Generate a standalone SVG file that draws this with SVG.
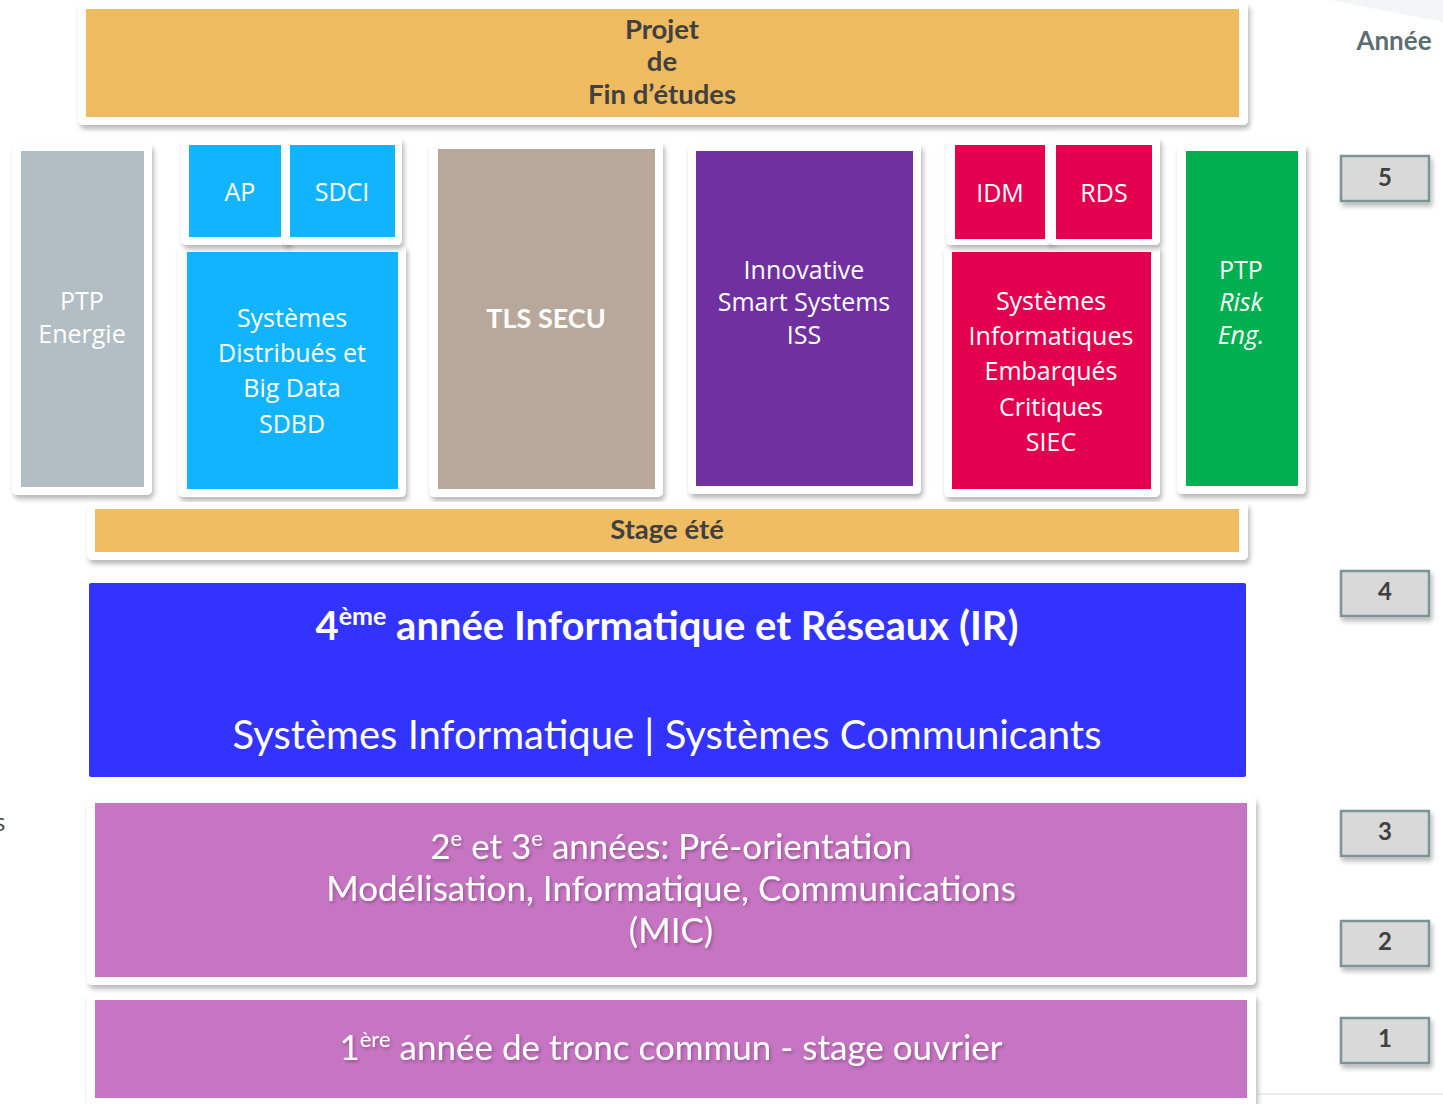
<svg xmlns="http://www.w3.org/2000/svg" width="1443" height="1104" viewBox="0 0 1443 1104">
  <defs>
    <filter id="shadow" x="-10%" y="-10%" width="120%" height="130%">
      <feDropShadow dx="2" dy="4" stdDeviation="2.5" flood-color="#000" flood-opacity="0.28"/>
    </filter>
    <filter id="tshadow" x="-5%" y="-30%" width="110%" height="160%">
      <feDropShadow dx="1.5" dy="2" stdDeviation="1.5" flood-color="#5a2a58" flood-opacity="0.45"/>
    </filter>
    <style>
      .frame { fill: #ffffff; filter: url(#shadow); }
      .cal { font-family: Lato, "Liberation Sans", sans-serif; }
      .os { font-family: "Open Sans", "Liberation Sans", sans-serif; }
      .w { fill: #ffffff; }
      .title { font-weight: bold; fill: #404040; font-size: 27.5px; }
      .box { font-size: 25px; fill: #ffffff; text-anchor: middle; }
      .year rect { fill: #d9d9d9; stroke: #7b9496; stroke-width: 2.5; filter: url(#shadow); }
      .year text { font-family: Lato, "Liberation Sans", sans-serif; font-weight: bold; font-size: 24px; fill: #404040; text-anchor: middle; }
    </style>
  </defs>

  <rect width="1443" height="1104" fill="#ffffff"/>
  <!-- faint background accents -->
  <polygon points="1330,0 1443,0 1443,22" fill="#f3f6f6"/>
  <line x1="1258" y1="1094" x2="1443" y2="1094" stroke="#eeeeee" stroke-width="2"/>
  <text x="-6" y="831" class="os" font-size="24" fill="#444">s</text>

  <!-- Year 5 : final project -->
  <g id="pfe">
    <rect class="frame" x="78" y="2" width="1170" height="123" rx="5"/>
    <rect x="86" y="9" width="1153" height="108" fill="#efbb61"/>
    <text class="cal title" text-anchor="middle" x="662"><tspan x="662" y="39">Projet</tspan><tspan x="662" y="71">de</tspan><tspan x="662" y="104">Fin d’études</tspan></text>
  </g>

  <g id="ptp-energie">
    <rect class="frame" x="12" y="143" width="140" height="352" rx="5"/>
    <rect x="21" y="151" width="123" height="336" fill="#b2bec3"/>
    <text class="os box"><tspan x="82" y="310">PTP</tspan><tspan x="82" y="343">Energie</tspan></text>
  </g>

  <g id="sdbd">
    <rect class="frame" x="178" y="245" width="228" height="252" rx="5"/>
    <rect x="187" y="252" width="211" height="237" fill="#12b4ff"/>
    <text class="os box"><tspan x="292" y="327">Systèmes</tspan><tspan x="292" y="362">Distribués et</tspan><tspan x="292" y="397">Big Data</tspan><tspan x="292" y="433">SDBD</tspan></text>
  </g>

  <g id="ap">
    <rect class="frame" x="181" y="138" width="109" height="107" rx="5"/>
    <rect x="189" y="145" width="92" height="92" fill="#12b4ff"/>
    <text class="os box" x="240" y="201">AP</text>
  </g>

  <g id="sdci">
    <rect class="frame" x="283" y="137" width="119" height="108" rx="5"/>
    <rect x="290" y="145" width="105" height="92" fill="#12b4ff"/>
    <text class="os box" x="342" y="201">SDCI</text>
  </g>

  <g id="tls-secu">
    <rect class="frame" x="429" y="141" width="234" height="356" rx="5"/>
    <rect x="438" y="149" width="217" height="340" fill="#b8a89c"/>
    <text class="cal" x="546" y="328" font-size="27" font-weight="bold" fill="#ffffff" text-anchor="middle">TLS SECU</text>
  </g>

  <g id="iss">
    <rect class="frame" x="688" y="143" width="233" height="351" rx="5"/>
    <rect x="696" y="151" width="217" height="335" fill="#7030a0"/>
    <text class="os box" font-size="24"><tspan x="804" y="279">Innovative</tspan><tspan x="804" y="311">Smart Systems</tspan><tspan x="804" y="344">ISS</tspan></text>
  </g>

  <g id="siec">
    <rect class="frame" x="944" y="245" width="216" height="252" rx="5"/>
    <rect x="952" y="252" width="199" height="237" fill="#e4004f"/>
    <text class="os box"><tspan x="1051" y="310">Systèmes</tspan><tspan x="1051" y="345">Informatiques</tspan><tspan x="1051" y="380">Embarqués</tspan><tspan x="1051" y="416">Critiques</tspan><tspan x="1051" y="451">SIEC</tspan></text>
  </g>

  <g id="idm">
    <rect class="frame" x="946" y="138" width="107" height="107" rx="5"/>
    <rect x="955" y="145" width="90" height="94" fill="#e4004f"/>
    <text class="os box" x="1000" y="202">IDM</text>
  </g>

  <g id="rds">
    <rect class="frame" x="1048" y="137" width="112" height="108" rx="5"/>
    <rect x="1056" y="145" width="96" height="94" fill="#e4004f"/>
    <text class="os box" x="1104" y="202">RDS</text>
  </g>

  <g id="ptp-risk">
    <rect class="frame" x="1177" y="143" width="129" height="351" rx="5"/>
    <rect x="1186" y="151" width="112" height="335" fill="#00b050"/>
    <text class="os box"><tspan x="1241" y="279">PTP</tspan><tspan x="1241" y="311" font-style="italic">Risk</tspan><tspan x="1241" y="344" font-style="italic">Eng.</tspan></text>
  </g>

  <!-- Year 4 -->
  <g id="stage-ete">
    <rect class="frame" x="87" y="502" width="1161" height="58" rx="5"/>
    <rect x="95" y="509" width="1144" height="43" fill="#f1bd62"/>
    <text class="cal title" x="667" y="539" text-anchor="middle">Stage été</text>
  </g>

  <g id="ir">
    <rect x="89" y="583" width="1157" height="194" rx="2" fill="#3333ff"/>
    <text class="cal w" x="667" y="640" font-size="40" font-weight="bold" text-anchor="middle">4<tspan font-size="25" dy="-15">ème</tspan><tspan dy="15"> année Informatique et Réseaux (IR)</tspan></text>
    <text class="cal w" x="667" y="749" font-size="40" text-anchor="middle">Systèmes Informatique | Systèmes Communicants</text>
  </g>

  <!-- Years 2 and 3 -->
  <g id="mic">
    <rect class="frame" x="87" y="797" width="1169" height="188" rx="5"/>
    <rect x="95" y="803" width="1152" height="174" fill="#c675c2"/>
    <g class="cal w" font-size="35" text-anchor="middle" filter="url(#tshadow)">
      <text x="671" y="859">2<tspan font-size="22" dy="-13">e</tspan><tspan dy="13"> et 3</tspan><tspan font-size="22" dy="-13">e</tspan><tspan dy="13"> années: Pré-orientation</tspan></text>
      <text x="671" y="901">Modélisation, Informatique, Communications</text>
      <text x="671" y="943">(MIC)</text>
    </g>
  </g>

  <!-- Year 1 -->
  <g id="tronc-commun">
    <rect class="frame" x="87" y="993" width="1169" height="125" rx="5"/>
    <rect x="95" y="1000" width="1152" height="98" fill="#c675c2"/>
    <g class="cal w" font-size="35" text-anchor="middle" filter="url(#tshadow)">
      <text x="671" y="1060">1<tspan font-size="22" dy="-13">ère</tspan><tspan dy="13"> année de tronc commun - stage ouvrier</tspan></text>
    </g>
  </g>

  <!-- Year scale -->
  <text id="annee" class="cal" x="1394" y="50" font-size="26" font-weight="bold" fill="#5b6e72" text-anchor="middle">Année</text>
  <g id="year-5" class="year"><rect x="1341" y="156" width="88" height="45"/><text x="1385" y="186">5</text></g>
  <g id="year-4" class="year"><rect x="1341" y="571" width="88" height="45"/><text x="1385" y="600">4</text></g>
  <g id="year-3" class="year"><rect x="1341" y="811" width="88" height="45"/><text x="1385" y="840">3</text></g>
  <g id="year-2" class="year"><rect x="1341" y="921" width="88" height="45"/><text x="1385" y="950">2</text></g>
  <g id="year-1" class="year"><rect x="1341" y="1018" width="88" height="45"/><text x="1385" y="1047">1</text></g>

  <g id="connectors"/>
</svg>
